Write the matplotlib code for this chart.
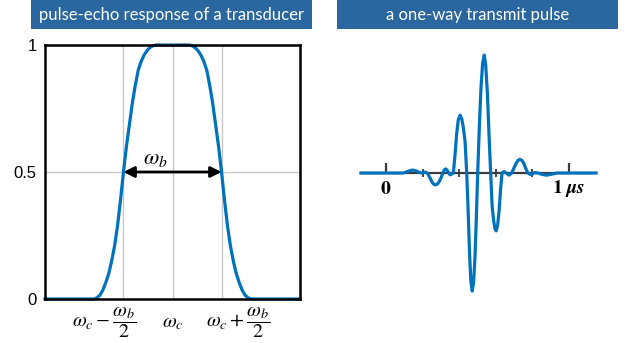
import matplotlib.pyplot as plt
from matplotlib.patches import Rectangle

plt.rcParams['mathtext.fontset'] = 'stix'

# left panel: pulse-echo frequency response (normalised)
resp_w = [-1.30, -0.80, -0.77, -0.74, -0.71, -0.68, -0.65, -0.62, -0.59, -0.56,
          -0.53, -0.50, -0.47, -0.44, -0.41, -0.38, -0.35, -0.32, -0.29, -0.26,
          -0.23, -0.20, -0.17, -0.10, 0.0, 0.10, 0.17, 0.20, 0.23, 0.26, 0.29,
          0.32, 0.35, 0.38, 0.41, 0.44, 0.47, 0.50, 0.53, 0.56, 0.59, 0.62,
          0.65, 0.68, 0.71, 0.74, 0.77, 0.80, 1.30]
resp = [0, 0, 0.005, 0.015, 0.035, 0.065, 0.10, 0.15, 0.21, 0.29,
        0.39, 0.50, 0.60, 0.685, 0.77, 0.84, 0.90, 0.935, 0.96, 0.978,
        0.99, 0.997, 1.0, 1.0, 1.0, 1.0, 1.0, 0.997, 0.99, 0.978, 0.96,
        0.935, 0.90, 0.84, 0.77, 0.685, 0.60, 0.50, 0.39, 0.29, 0.21, 0.15,
        0.10, 0.065, 0.035, 0.015, 0.005, 0, 0]
w_ticks = [-0.5, 0.0, 0.5]
w_labels = [r'$\omega_c-\dfrac{\omega_b}{2}$', r'$\omega_c$', r'$\omega_c+\dfrac{\omega_b}{2}$']
w_label_shift = [-19, 0, 17]
y_ticks = [0, 0.5, 1]
y_labels = ['0', '0.5', '1']

# right panel: one-way transmit pulse (time in microseconds)
pulse_t = [-0.137, 0.0, 0.093, 0.11, 0.13, 0.146, 0.165, 0.18, 0.195, 0.207, 0.218, 0.228,
           0.237, 0.246, 0.255, 0.264, 0.273, 0.283, 0.292, 0.302, 0.311,
           0.318, 0.326, 0.334, 0.342, 0.350, 0.358,
           0.368, 0.377, 0.386, 0.395, 0.405, 0.414, 0.423, 0.432,
           0.441, 0.4485, 0.456, 0.4635, 0.471, 0.4785, 0.486, 0.4935,
           0.501, 0.510, 0.519, 0.528, 0.537, 0.545, 0.554, 0.563,
           0.572, 0.580, 0.588, 0.595, 0.602, 0.610, 0.618, 0.626,
           0.634, 0.645, 0.657, 0.672, 0.687, 0.700, 0.712, 0.722, 0.732, 0.742,
           0.752, 0.762, 0.775, 0.786, 0.797, 0.812, 0.830, 0.855, 0.878, 0.900,
           0.933, 1.148]
pulse_a = [0, 0, 0, 0.008, 0.02, 0.025, 0.018, 0.006, 0.0, 0.008, 0.006, -0.005,
           -0.03, -0.06, -0.085, -0.098, -0.10, -0.09, -0.07, -0.035, 0,
           0.025, 0.035, 0.025, 0.0, -0.015, -0.01,
           0, 0.15, 0.33, 0.45, 0.49, 0.46, 0.38, 0.27,
           0, -0.30, -0.66, -0.91, -1.0, -0.93, -0.72, -0.39,
           0, 0.39, 0.72, 0.93, 1.0, 0.91, 0.68, 0.32,
           0, -0.28, -0.40, -0.47, -0.49, -0.44, -0.32, -0.14,
           0, 0.012, 0.0, -0.018, 0, 0.045, 0.085, 0.108, 0.116, 0.108,
           0.085, 0.045, 0, -0.01, -0.012, 0.004, 0, -0.012, -0.018, -0.012,
           0, 0]
t_major = [0, 1]
t_minor = [0.2, 0.4, 0.6, 0.8]

titles = ['pulse-echo response of a transducer', 'a one-way transmit pulse']

blue = '#0072BD'
header = '#2A67A0'

fig = plt.figure(figsize=(6.3, 3.43), dpi=100)

# header boxes
for x0, x1, txt in [(31, 312, titles[0]), (337, 618, titles[1])]:
    fig.add_artist(Rectangle((x0 / 630, 1 - 29 / 343), (x1 - x0) / 630, 29 / 343,
                             transform=fig.transFigure, color=header, lw=0))
    fig.text((x0 + x1) / 2 / 630, 1 - 15 / 343, txt, color='white', fontsize=12,
             family='Lato', ha='center', va='center')

# left panel
ax1 = fig.add_axes([45 / 630, 44 / 343, 255 / 630, 254 / 343])
ax1.plot(resp_w, resp, color=blue, lw=2.3, clip_on=False, zorder=3)
ax1.set_xlim(-1.3, 1.3)
ax1.set_ylim(0, 1)
ax1.set_xticks(w_ticks)
ax1.set_xticklabels([])
ax1.set_yticks(y_ticks)
ax1.set_yticklabels(y_labels, family='Liberation Sans', fontsize=12)
ax1.tick_params(length=0, pad=6)
ax1.grid(True, color='#c8c8c8', lw=1)
for s in ax1.spines.values():
    s.set_linewidth(1.8)
    s.set_zorder(4)
for pos, lbl, dx in zip(w_ticks, w_labels, w_label_shift):
    ax1.annotate(lbl, xy=(pos, 0), xycoords=('data', 'axes fraction'),
                 xytext=(dx, -24), textcoords='offset pixels',
                 ha='center', va='center', fontsize=14.5)
ax1.annotate('', xy=(w_ticks[0], 0.5), xytext=(w_ticks[2], 0.5),
             arrowprops=dict(arrowstyle='<|-|>', color='black', lw=2,
                             mutation_scale=16, shrinkA=0, shrinkB=0))
ax1.text(-0.18, 0.51, r'$\omega_b$', ha='center', va='bottom', fontsize=16)

# right panel
ax2 = fig.add_axes([350 / 630, 43 / 343, 260 / 630, 255 / 343])
ax2.set_xlim(-0.1967, 1.224)
ax2.set_ylim(-1.076, 1.085)
ax2.axis('off')
ax2.hlines(0, pulse_t[0], pulse_t[-1], color='#3a3a3a', lw=1.6, zorder=1)
ax2.vlines(t_major, 0, 0.085, color='#3a3a3a', lw=1.6, zorder=1)
ax2.vlines(t_minor, -0.035, 0.035, color='#3a3a3a', lw=1.3, zorder=1)
ax2.plot(pulse_t, pulse_a, color=blue, lw=2.3, zorder=2)
ax2.text(t_major[0], -0.13, r'$\mathbf{0}$', ha='center', va='center', fontsize=14)
ax2.text(t_major[1], -0.13, r'$\mathbf{1}\ \mathbfit{\mu s}$', ha='center', va='center', fontsize=14)

fig.savefig('out.png', dpi=100)
